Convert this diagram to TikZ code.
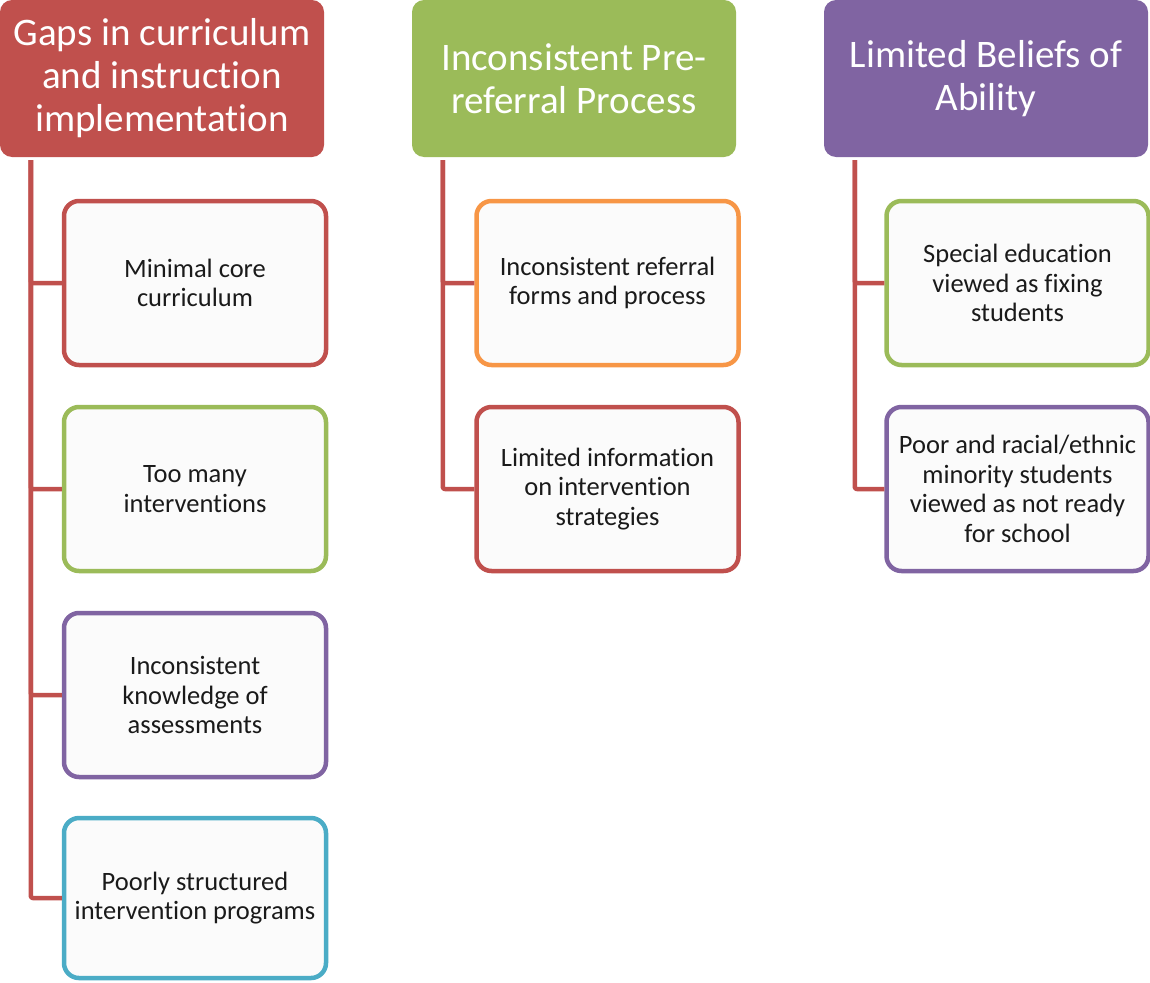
\documentclass[tikz,border=0pt]{standalone}
\usepackage{fontspec}
\setmainfont{Carlito}[Ligatures=NoCommon]
\definecolor{cred}{HTML}{C0504D}
\definecolor{cgreen}{HTML}{9BBB59}
\definecolor{cpurple}{HTML}{8064A2}
\definecolor{corange}{HTML}{F79646}
\definecolor{cblue}{HTML}{4BACC6}
\definecolor{cfill}{HTML}{FBFBFB}
\definecolor{ctext}{HTML}{1A1A1A}
\tikzset{
  head/.style={rectangle, rounded corners=12pt, draw=none, fill=#1, text=white,
    minimum width=324pt, minimum height=157pt, align=center, inner sep=0pt,
    font=\fontsize{39}{43}\selectfont},
  child/.style={rectangle, rounded corners=15pt, draw=#1, line width=4.5pt, fill=cfill,
    text=ctext, minimum width=262pt, minimum height=164pt, align=center, inner sep=0pt,
    font=\fontsize{26.5}{29.5}\selectfont},
  conn/.style={draw=cred, line width=4.5pt, rounded corners=2pt, line join=round}
}
\begin{document}
\begin{tikzpicture}[x=1pt,y=-1pt]
\useasboundingbox (0,0) rectangle (1150,982);
% headers
\node[head=cred] (h1) at (162,78.5) {Gaps in curriculum\\and instruction\\implementation};
\node[head=cgreen] (h2) at (574,78.5) {Inconsistent Pre-\\referral Process};
\node[head=cpurple] (h3) at (986,78.5) {Limited Beliefs of\\Ability};
% column 1
\node[child=cred] (c11) at (195,283) {Minimal core\\curriculum};
\node[child=cgreen] (c12) at (195,489) {Too many\\interventions};
\node[child=cpurple] (c13) at (195,695) {Inconsistent\\knowledge of\\assessments};
\node[child=cblue, minimum height=160pt] (c14) at (195,898) {Poorly structured\\intervention programs};
% column 2
\node[child=corange] (c21) at (607.5,283) {Inconsistent referral\\forms and process};
\node[child=cred] (c22) at (607.5,489) {Limited information\\on intervention\\strategies};
% column 3
\node[child=cgreen] (c31) at (1017.5,283) {Special education\\viewed as fixing\\students};
\node[child=cpurple] (c32) at (1017.5,489) {Poor and racial/ethnic\\minority students\\viewed as not ready\\for school};
% connectors
\foreach \c in {c11,c12,c13,c14}
  \draw[conn] ([xshift=31pt,yshift=-3pt]h1.south west) |- (\c.west);
\foreach \c in {c21,c22}
  \draw[conn] ([xshift=31pt,yshift=-3pt]h2.south west) |- (\c.west);
\foreach \c in {c31,c32}
  \draw[conn] ([xshift=31pt,yshift=-3pt]h3.south west) |- (\c.west);
\end{tikzpicture}
\end{document}
